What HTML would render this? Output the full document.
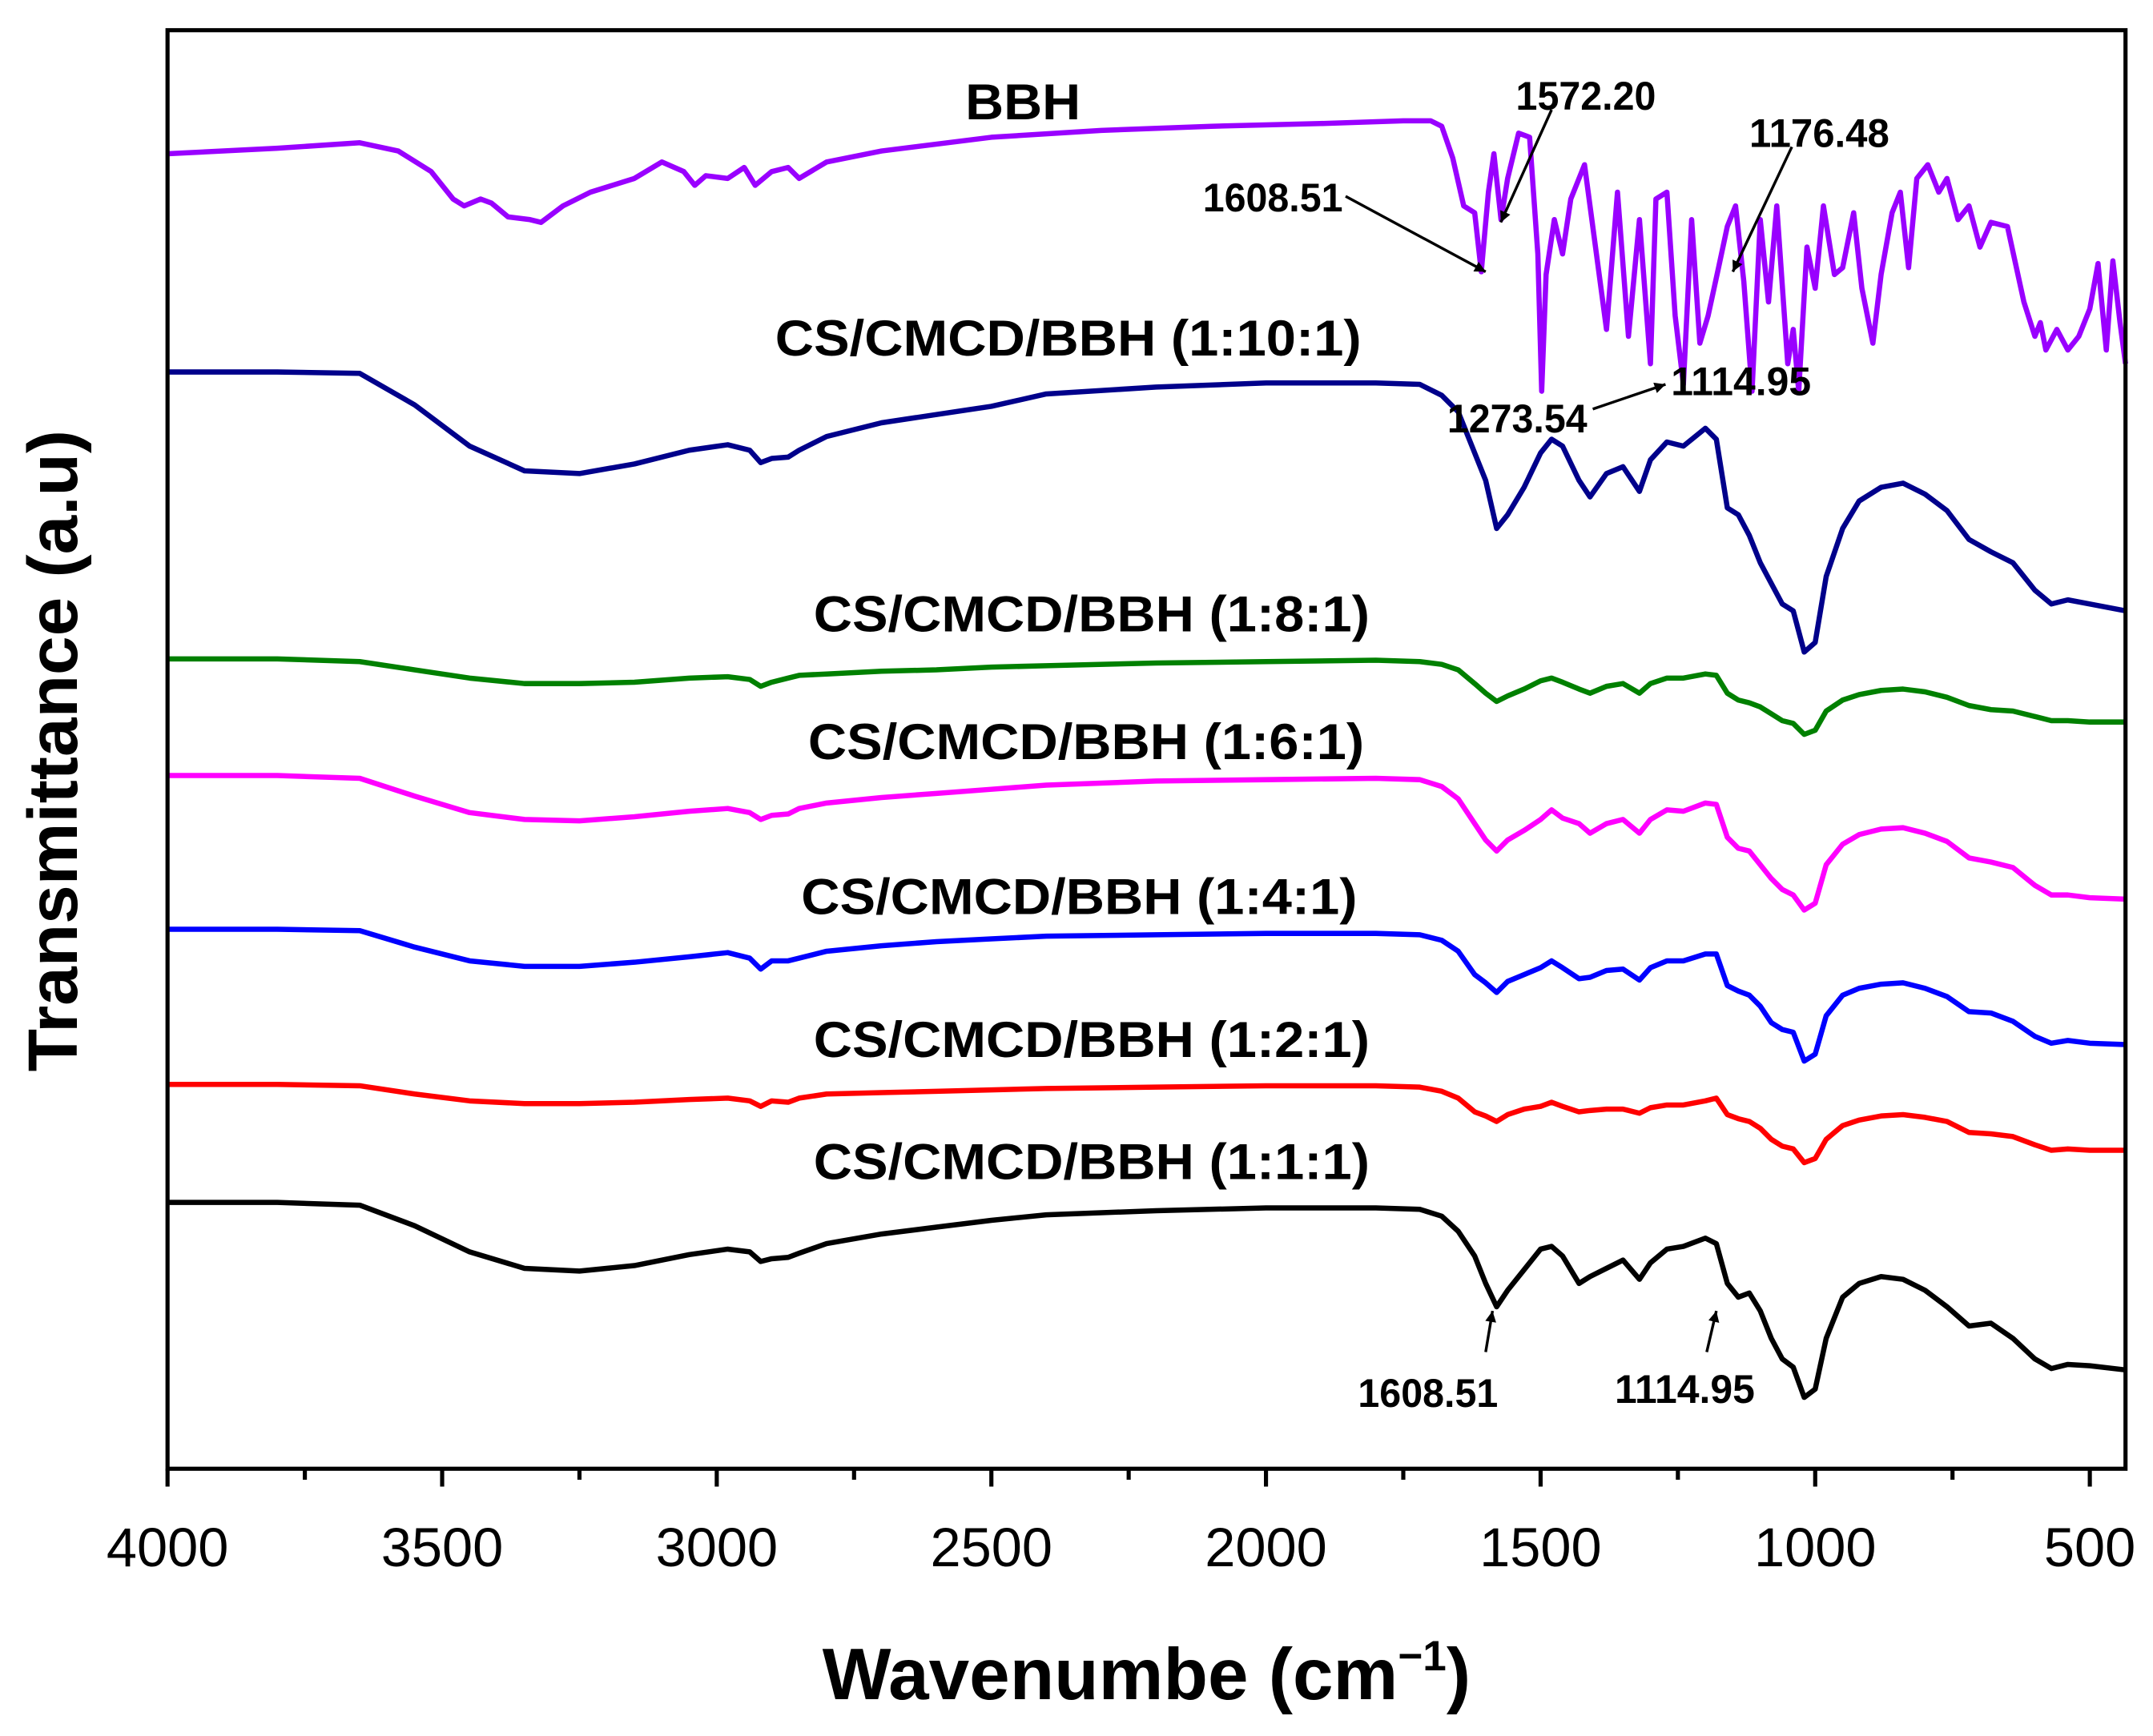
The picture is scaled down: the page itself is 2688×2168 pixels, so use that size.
<!DOCTYPE html>
<html><head><meta charset="utf-8">
<style>
html,body{margin:0;padding:0;background:#fff;}
svg{display:block;}
text{font-family:"Liberation Sans",Arial,sans-serif;font-weight:bold;fill:#000;}
</style></head>
<body>
<svg id="chart" width="2688" height="2168" viewBox="0 0 1568 1264.7" xmlns="http://www.w3.org/2000/svg">
<g id="series"></g>
<rect x="122" y="22" width="1426" height="1048" fill="none" stroke="#000" stroke-width="3"/>
<g id="ticks"></g>
<text transform="translate(56,547) rotate(-90)" text-anchor="middle" font-size="51">Transmittance (a.u)</text>
<text x="835" y="1238" text-anchor="middle" font-size="53">Wavenumbe (cm<tspan font-size="31" dy="-21">−1</tspan><tspan dy="21">)</tspan></text>
<g id="labels"></g>
<g id="annots"></g>
</svg>
<script>
const W = [4000,3800,3650,3550,3450,3350,3250,3150,3050,2980,2940,2920,2900,2870,2850,2800,2700,2600,2500,2400,2200,2000,1800,1720,1680,1650,1620,1600,1580,1560,1530,1500,1480,1460,1430,1410,1380,1350,1320,1300,1270,1240,1200,1180,1160,1140,1120,1100,1080,1060,1040,1020,1000,980,950,920,880,840,800,760,720,680,640,600,570,540,500,435];
const s111 = [224,224,222,207,188,176,174,178,186,190,188,181,183,184,187,194,201,206,211,215,218,220,220,219,214,203,185,165,148,160,175,190,192,185,165,170,176,182,168,180,190,192,198,194,165,155,158,145,125,110,104,82,88,125,155,165,170,168,160,148,134,136,125,110,103,106,105,102];
const s1101 = [829,829,828,805,775,757,755,762,772,776,772,763,766,767,772,782,792,798,804,813,818,821,821,820,812,800,770,750,715,725,745,770,780,775,750,738,755,760,742,765,778,775,788,780,730,725,710,690,675,660,655,625,632,680,715,735,745,748,740,728,707,698,690,670,660,663,660,655];
const s181 = [620,620,618,612,606,602,602,603,606,607,605,600,603,606,608,609,611,612,614,615,617,618,619,618,616,612,602,595,589,593,598,604,606,603,598,595,600,602,595,602,606,606,609,608,595,590,588,585,580,575,573,565,568,582,590,594,597,598,596,592,586,583,582,578,575,575,574,574];
const s161 = [535,535,533,520,508,503,502,505,509,511,508,503,506,507,511,515,519,522,525,528,531,532,533,532,527,518,500,488,480,488,495,503,510,504,500,493,500,503,493,503,510,509,515,514,490,482,480,470,460,452,448,437,442,470,485,492,496,497,493,487,475,472,468,455,448,448,446,445];
const s141 = [423,423,422,410,400,396,396,399,403,406,402,394,400,400,402,407,411,414,416,418,419,420,420,419,415,407,390,384,377,385,390,395,400,395,387,388,393,394,386,395,400,400,405,405,382,378,375,367,355,350,348,327,332,360,375,380,383,384,380,374,363,362,356,345,340,342,340,339];
const s121 = [310,310,309,303,298,296,296,297,299,300,298,294,298,297,300,303,304,305,306,307,308,309,309,308,305,300,290,287,283,288,292,294,297,294,290,291,292,292,289,293,295,295,298,300,288,285,283,278,270,265,263,253,256,270,280,284,287,288,286,283,275,274,272,266,262,263,262,262];
const Wbbh = [4000,3800,3650,3580,3520,3480,3460,3430,3410,3380,3340,3320,3280,3230,3150,3100,3060,3040,3020,2980,2950,2930,2900,2870,2850,2800,2700,2500,2300,2100,1900,1750,1700,1680,1660,1640,1620,1608,1595,1585,1572,1560,1540,1520,1505,1498,1490,1475,1460,1445,1420,1400,1380,1360,1340,1320,1300,1290,1270,1255,1240,1225,1210,1195,1176,1160,1145,1130,1115,1100,1085,1070,1050,1040,1030,1015,1000,985,965,950,930,915,895,880,860,845,830,815,795,775,760,740,720,700,680,650,620,600,590,580,560,540,520,500,485,470,458,445,435];
const sBBH = [988,992,996,990,975,955,950,955,952,942,940,938,950,960,970,982,975,965,972,970,978,965,975,978,970,982,990,1000,1005,1008,1010,1012,1012,1008,985,950,945,902,960,988,940,970,1003,1000,915,815,900,940,915,955,980,920,860,960,855,940,835,955,960,870,820,940,850,870,905,935,950,895,815,940,880,950,835,860,815,920,890,950,900,905,945,890,850,900,945,960,905,970,980,960,970,940,950,920,938,935,880,855,865,845,860,845,855,875,908,845,910,865,835];
const xTicks = [4000,3500,3000,2500,2000,1500,1000,500];

const L=122,R=1548,T=22,B=1070;
function xs(w){return L+(4000-w)*(R-L)/(4000-435);}
function ys(v){return 1100-v;}
const NS="http://www.w3.org/2000/svg";
function mk(tag,attrs,parent){const e=document.createElementNS(NS,tag);for(const k in attrs)e.setAttribute(k,attrs[k]);parent.appendChild(e);return e;}
const sg=document.getElementById('series');
const defs=[[W,s111,'#000','series-1-1-1'],[W,s121,'#f00','series-1-2-1'],[W,s141,'#0000ff','series-1-4-1'],[W,s161,'#ff00ff','series-1-6-1'],[W,s181,'#008000','series-1-8-1'],[W,s1101,'#00008b','series-1-10-1'],[Wbbh,sBBH,'#9900ff','series-bbh']];
defs.forEach(d=>{
  const pts=d[0].map((w,i)=>xs(w).toFixed(1)+','+ys(d[1][i]).toFixed(1)).join(' ');
  const p=mk('polyline',{points:pts,fill:'none',stroke:d[2],'stroke-width':3.8,'stroke-linejoin':'round'},sg);
  
  
});
const tg=document.getElementById('ticks');
for(let w=4000;w>=500;w-=250){
  const major=(w%500===0);
  const t=mk('line',{x1:xs(w),x2:xs(w),y1:B,y2:B+(major?13:8),stroke:'#000','stroke-width':3},tg);
  
  
}
xTicks.forEach(w=>{
  const t=mk('text',{x:xs(w),y:1141,'text-anchor':'middle','font-size':40,style:'font-weight:normal'},tg);
  t.textContent=w;
  
  
});
const lg=document.getElementById('labels');
const labs=[['BBH',745,87,'label-bbh',84],['CS/CMCD/BBH (1:10:1)',778,259,'label-1-10-1',427],['CS/CMCD/BBH (1:8:1)',795,460,'label-1-8-1',405],['CS/CMCD/BBH (1:6:1)',791,553,'label-1-6-1',405],['CS/CMCD/BBH (1:4:1)',786,666,'label-1-4-1',405],['CS/CMCD/BBH (1:2:1)',795,770,'label-1-2-1',405],['CS/CMCD/BBH (1:1:1)',795,859,'label-1-1-1',405]];
labs.forEach(a=>{
  const t=mk('text',{x:a[1],y:a[2],'text-anchor':'middle','font-size':37,textLength:a[4],lengthAdjust:'spacingAndGlyphs'},lg);
  t.textContent=a[0];
  
  
});
const ag=document.getElementById('annots');
mk('defs',{},ag).innerHTML='<marker id="ah" viewBox="0 0 10 10" refX="10" refY="5" markerWidth="5" markerHeight="4" orient="auto"><path d="M0,0L10,5L0,10z" fill="#000"/></marker>';
const ann=[['1608.51',927,144,980,143,1082,198],['1572.20',1155,70,1130,80,1093,162],['1176.48',1325,97,1305,107,1262,198],['1273.54',1105,305,1160,298,1213,280],['1114.95',1268,278,null],['1608.51',1040,1015,1082,985,1087,955],['1114.95',1227,1012,1243,985,1250,955]];
ann.forEach(a=>{
  const t=mk('text',{x:a[1],y:a[2]+10,'text-anchor':'middle','font-size':29,textLength:102,lengthAdjust:'spacingAndGlyphs'},ag);
  t.textContent=a[0];
  
  
  if(a[3]!==null){
    const l=mk('line',{x1:a[3],y1:a[4],x2:a[5],y2:a[6],stroke:'#000','stroke-width':2,'marker-end':'url(#ah)'},ag);
    
    
  }
});
</script>
</body></html>
